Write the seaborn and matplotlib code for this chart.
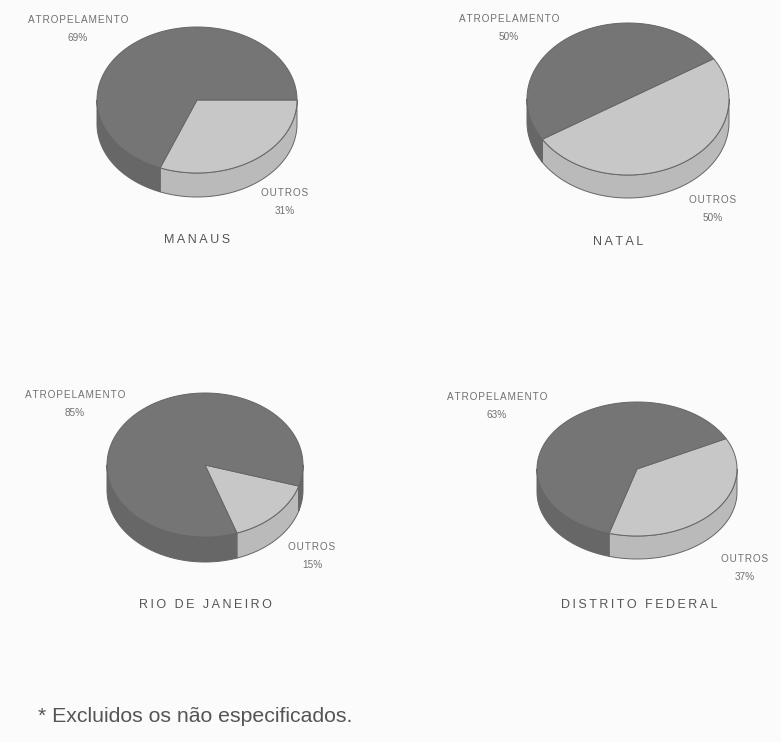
import numpy as np
import matplotlib
matplotlib.use("Agg")
import matplotlib.pyplot as plt
from matplotlib.patches import Polygon
import seaborn as sns

# ---- data ----
cities = ["MANAUS", "NATAL", "RIO DE JANEIRO", "DISTRITO FEDERAL"]
categories = ["ATROPELAMENTO", "OUTROS"]
atropelamento = [69, 50, 85, 63]
outros = [31, 50, 15, 37]
footnote = "* Excluidos os não especificados."

# ---- layout (pixels) ----
centers = [(197, 100), (628, 99), (205, 465), (637, 469)]
radii = [(100, 73), (101, 76), (98, 72), (100, 67)]
depths = [24, 23, 25, 23]
outros_start = [0, 32, -17, 27]   # degrees, slices run clockwise
lbl_a = [(78, 29), (509, 28), (75, 404), (497, 406)]
lbl_o = [(285, 202), (713, 209), (312, 556), (745, 568)]
lbl_t = [(197, 240), (618, 242), (205, 605), (639, 605)]

sns.set_theme(style="white")
plt.rcParams["font.family"] = ["Liberation Sans", "DejaVu Sans"]

top_cols = {"ATROPELAMENTO": "#757575", "OUTROS": "#c7c7c7"}
side_cols = {"ATROPELAMENTO": "#676767", "OUTROS": "#bababa"}
edge_col = "#666666"

fig = plt.figure(figsize=(7.81, 7.42), dpi=100)
fig.patch.set_facecolor("#fbfbfb")
ax = fig.add_axes([0, 0, 1, 1])
ax.set_xlim(0, 781)
ax.set_ylim(742, 0)
ax.axis("off")


def spaced(s, sep="\u200a"):
    return sep.join(list(s))


def pt(cx, cy, rx, ry, t, dz=0):
    return np.column_stack([cx + rx * np.cos(t), cy - ry * np.sin(t) + dz])


for i, city in enumerate(cities):
    cx, cy = centers[i]
    rx, ry = radii[i]
    d = depths[i]
    vals = {"OUTROS": outros[i], "ATROPELAMENTO": atropelamento[i]}
    total = sum(vals.values())
    start = np.deg2rad(outros_start[i])
    slices = []
    for cat in ["OUTROS", "ATROPELAMENTO"]:
        span = 2 * np.pi * vals[cat] / total
        slices.append((cat, start - span, start))
        start -= span
    # side walls (visible front half: sin(t) < 0)
    for cat, t0, t1 in slices:
        for k in range(-2, 3):
            a = max(t0, np.pi + 2 * np.pi * k)
            b = min(t1, 2 * np.pi + 2 * np.pi * k)
            if b > a:
                t = np.linspace(a, b, 120)
                up = pt(cx, cy, rx, ry, t)
                lo = pt(cx, cy, rx, ry, t[::-1], d)
                ax.add_patch(Polygon(np.vstack([up, lo]), closed=True,
                                     facecolor=side_cols[cat], edgecolor=edge_col,
                                     linewidth=0.7, joinstyle="round"))
    # top faces
    for cat, t0, t1 in slices:
        t = np.linspace(t0, t1, 200)
        poly = np.vstack([[cx, cy], pt(cx, cy, rx, ry, t)])
        ax.add_patch(Polygon(poly, closed=True, facecolor=top_cols[cat],
                             edgecolor=edge_col, linewidth=0.7, joinstyle="round"))
    # labels
    ax.text(*lbl_a[i], f"{spaced(categories[0])}\n{atropelamento[i]}%", ha="center",
            va="center", fontsize=7.2, color="#707070", linespacing=1.9)
    ax.text(*lbl_o[i], f"{spaced(categories[1])}\n{outros[i]}%", ha="center",
            va="center", fontsize=7.2, color="#707070", linespacing=1.9)
    ax.text(*lbl_t[i], spaced(city, "\u2009"), ha="center", va="center",
            fontsize=9, color="#555555")

ax.text(38, 717, footnote, ha="left", va="center", fontsize=15.3, color="#555555")

fig.savefig("out.png", dpi=100, facecolor=fig.get_facecolor())
